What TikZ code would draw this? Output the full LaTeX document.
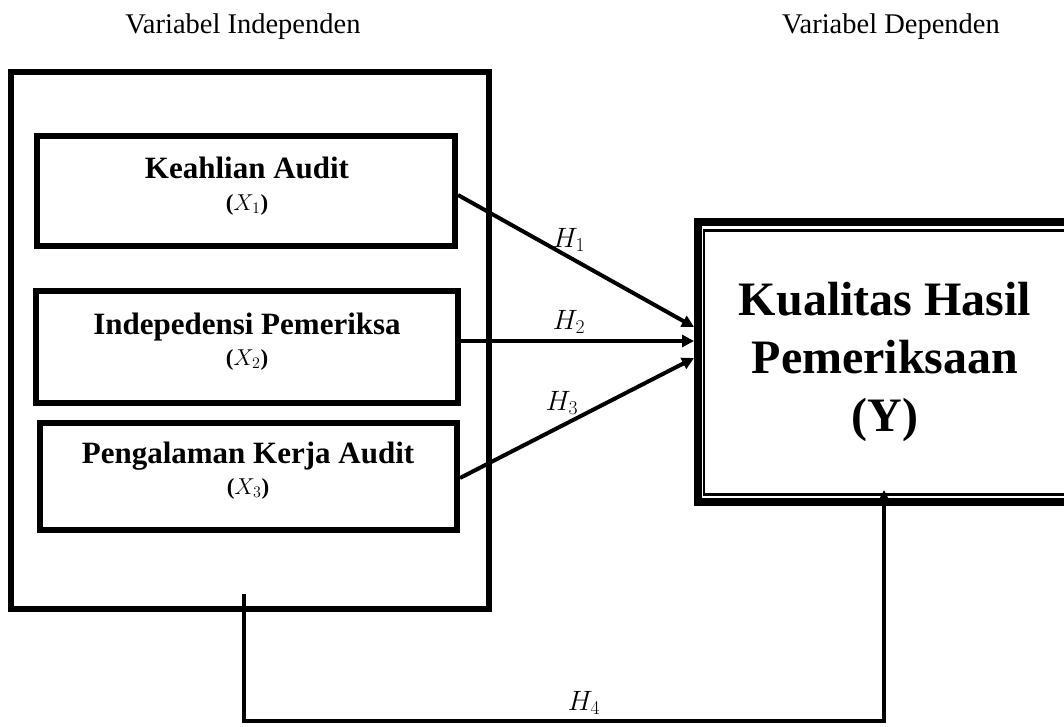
\RequirePackage{fix-cm}
\documentclass[tikz,border=0pt]{standalone}
\usepackage{fontspec}
\setmainfont{Liberation Serif}
\usetikzlibrary{arrows.meta,calc}
\tikzset{
  frame/.style={draw, line width=6pt, inner sep=0pt},
  varbox/.style={draw, line width=6pt, inner sep=0pt},
  ttl/.style={font=\bfseries\fontsize{31}{36}\selectfont, anchor=base, inner sep=0pt},
  sublbl/.style={font=\bfseries\fontsize{23}{26}\selectfont, anchor=base, inner sep=0pt},
  head/.style={font=\fontsize{28.5}{32}\selectfont, anchor=base, inner sep=0pt},
  hyp/.style={font=\fontsize{28}{32}\selectfont, inner sep=0pt},
  conn/.style={line width=4pt, -{Triangle[length=12pt,width=12pt]}},
}
\begin{document}
\begin{tikzpicture}[x=1pt,y=-1pt]
\clip (0,0) rectangle (1064,726);
\node[head] (hind) at (243,33) {Variabel Independen};
\node[head] (hdep) at (891,33) {Variabel Dependen};
\node[frame, minimum width=478pt, minimum height=537pt] (outer) at (250,340.5) {};
\node[varbox, minimum width=418pt, minimum height=110pt] (x1) at (246,191) {};
\node[varbox, minimum width=422pt, minimum height=112pt] (x2) at (247,347) {};
\node[varbox, minimum width=417pt, minimum height=107pt] (x3) at (248.5,476.5) {};
\node[ttl] (t1) at (247,178) {Keahlian Audit};
\node[sublbl] (s1) at (247,210) {($X_1$)};
\node[ttl] (t2) at (247,334) {Indepedensi Pemeriksa};
\node[sublbl] (s2) at (247,365) {($X_2$)};
\node[ttl] (t3) at (248,463) {Pengalaman Kerja Audit};
\node[sublbl] (s3) at (248,494) {($X_3$)};
\node[inner sep=0pt, outer sep=0pt, minimum width=382pt, minimum height=288pt, align=center,
      font=\bfseries\fontsize{48}{58}\selectfont] (Y) at (885,362) {Kualitas Hasil\\Pemeriksaan\\(Y)};
\draw[line width=8pt] ($(Y.north east)+(0,4)$) -- ($(Y.north west)+(4,4)$) -- ($(Y.south west)+(4,-4)$) -- ($(Y.south east)+(0,-4)$);
\draw[line width=2.5pt] ($(Y.north east)+(-10,12.5)$) -- ($(Y.north west)+(10,12.5)$) -- ($(Y.south west)+(10,-11.5)$) -- ($(Y.south east)+(-10,-11.5)$);
\draw[conn] ($(x1.east)+(0,4)$) -- ($(Y.west)+(0,-35)$);
\draw[conn] ($(x2.east)+(0,-6)$) -- ($(Y.west)+(0,-21)$);
\draw[conn] ($(x3.east)+(0,1.5)$) -- ($(Y.west)+(0,-4)$);
\draw[conn] ($(outer.south west)+(236,-18)$) -- ++(0,127) -| ($(Y.south west)+(190,-16)$);
\node[hyp] (h1) at (569,240) {$H_1$};
\node[hyp] (h2) at (569,322) {$H_2$};
\node[hyp] (h3) at (562,403) {$H_3$};
\node[hyp] (h4) at (584,703) {$H_4$};
\end{tikzpicture}
\end{document}
